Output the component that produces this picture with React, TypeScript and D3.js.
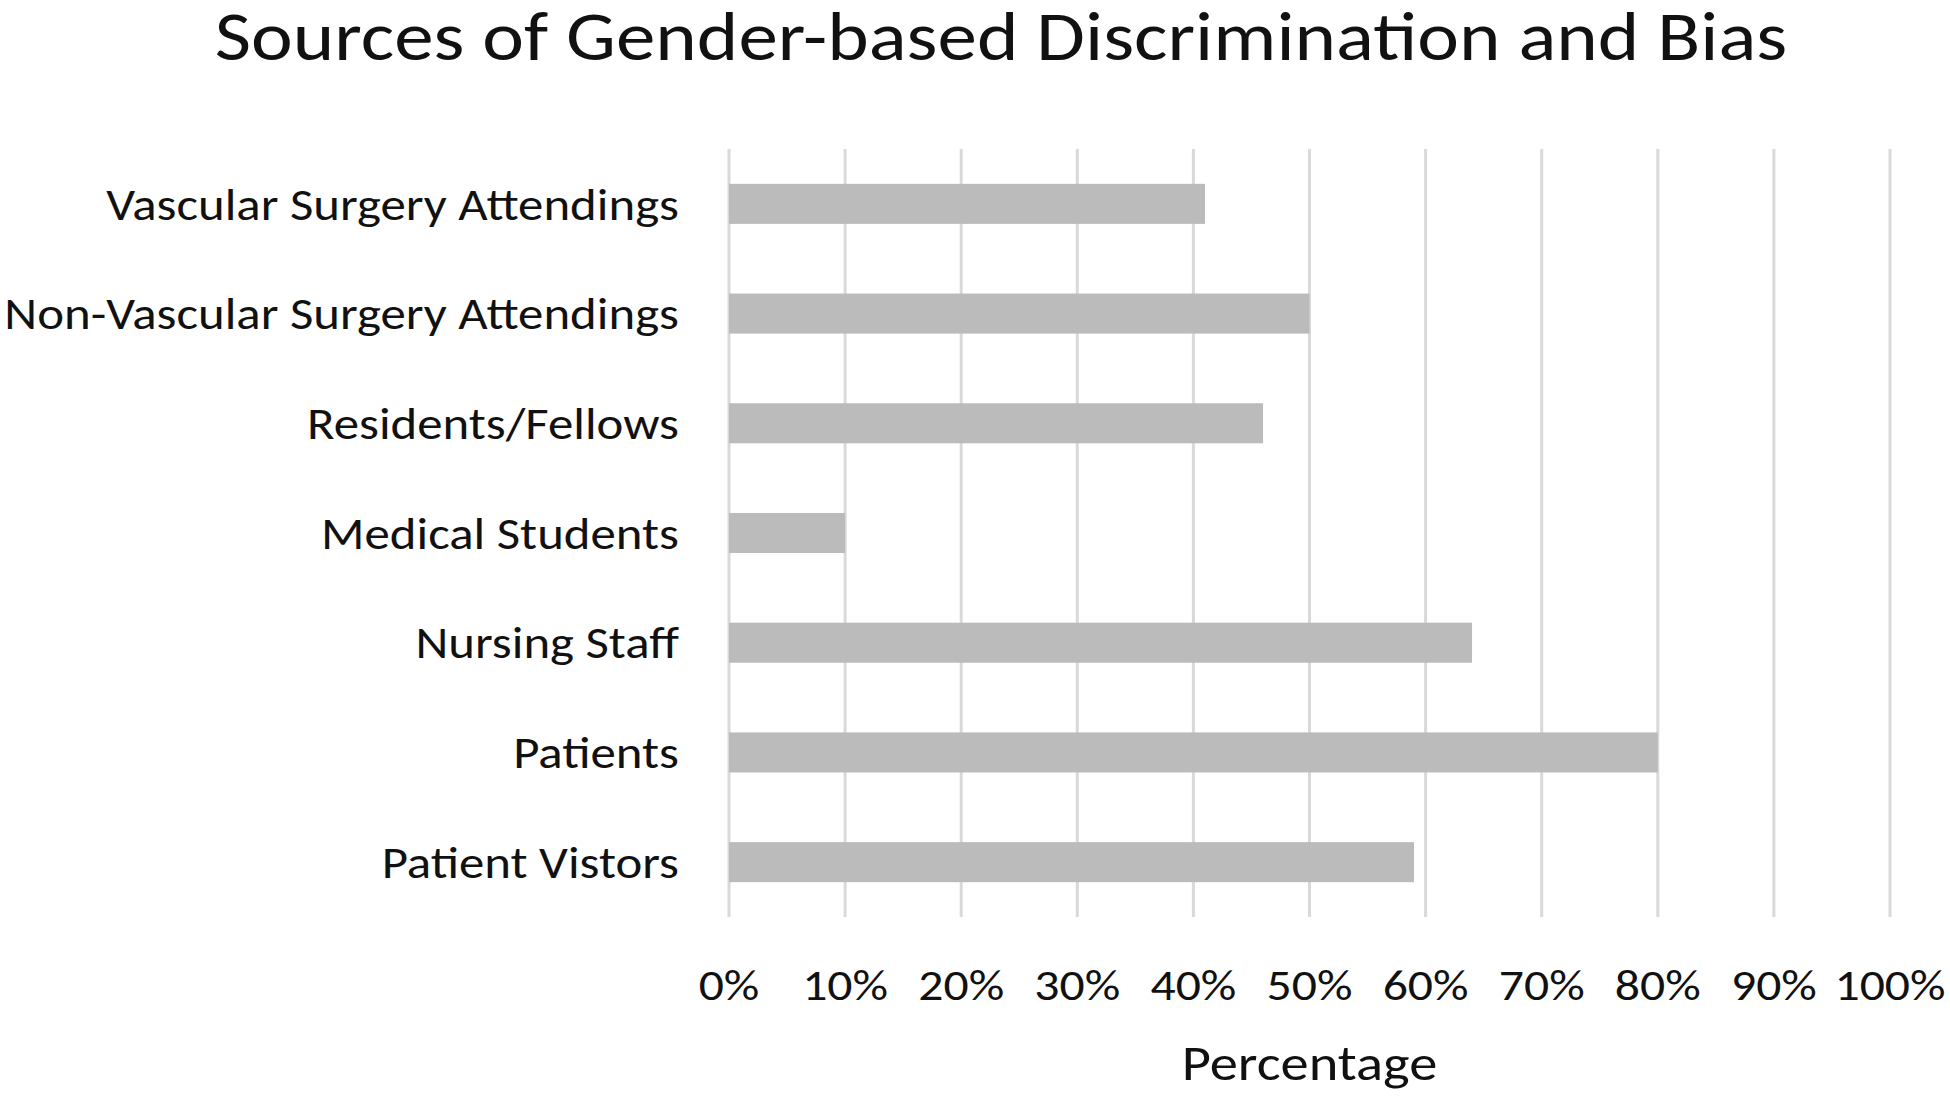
import React from "react";
import * as d3 from "d3";

const title = "Sources of Gender-based Discrimination and Bias";
const categories = [
  "Vascular Surgery Attendings",
  "Non-Vascular Surgery Attendings",
  "Residents/Fellows",
  "Medical Students",
  "Nursing Staff",
  "Patients",
  "Patient Vistors",
];
const values = [41, 50, 46, 10, 64, 80, 59];
const xTicks = [0, 10, 20, 30, 40, 50, 60, 70, 80, 90, 100];
const xAxisTitle = "Percentage";

const W = 1950;
const H = 1097;
const FONT = "Carlito, Calibri, Lato, 'Open Sans', sans-serif";
const SX = 1.13;

function T(props: {
  x: number;
  y: number;
  size: number;
  anchor: "start" | "middle" | "end";
  dy?: string;
  children: React.ReactNode;
}) {
  return (
    <text
      transform={`translate(${props.x},${props.y}) scale(${SX},1)`}
      dy={props.dy}
      textAnchor={props.anchor}
      fontSize={props.size}
      fill="#111"
    >
      {props.children}
    </text>
  );
}

export default function App() {
  const left = 729;
  const right = 1890;
  const top = 149;
  const bottom = 917;

  const x = d3.scaleLinear().domain([0, 100]).range([left, right]);
  const y = d3
    .scaleBand<string>()
    .domain(categories)
    .range([top, bottom])
    .paddingInner(0.635)
    .paddingOuter(0.3175);

  return (
    <svg
      width={W}
      height={H}
      viewBox={`0 0 ${W} ${H}`}
      style={{ position: "absolute", left: 0, top: 0, background: "#fff" }}
      fontFamily={FONT}
    >
      <rect x={0} y={0} width={W} height={H} fill="#ffffff" />
      <T x={1001} y={60} size={70} anchor="middle">
        {title}
      </T>
      {xTicks.map((t) => (
        <line
          key={"g" + t}
          x1={x(t)}
          x2={x(t)}
          y1={top}
          y2={bottom}
          stroke="#d9d9d9"
          strokeWidth={3}
        />
      ))}
      {categories.map((c, i) => (
        <rect
          key={c}
          x={x(0)}
          y={y(c)}
          width={x(values[i]) - x(0)}
          height={y.bandwidth()}
          fill="#bbbbbb"
        />
      ))}
      {categories.map((c) => (
        <T
          key={"l" + c}
          x={679}
          y={(y(c) as number) + y.bandwidth() / 2}
          dy="0.35em"
          anchor="end"
          size={45}
        >
          {c}
        </T>
      ))}
      {xTicks.map((t) => (
        <T key={"t" + t} x={x(t)} y={1000} anchor="middle" size={44}>
          {t + "%"}
        </T>
      ))}
      <T x={(left + right) / 2} y={1080} anchor="middle" size={50}>
        {xAxisTitle}
      </T>
    </svg>
  );
}
